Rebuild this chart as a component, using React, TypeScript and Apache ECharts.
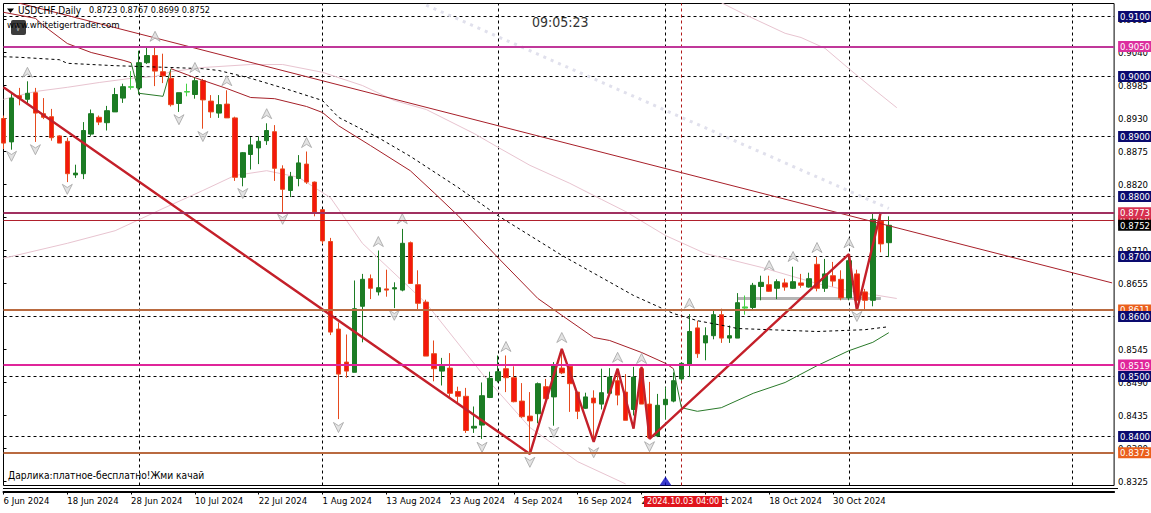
import React, { useEffect, useRef } from "react";
import * as echarts from "echarts";

const openPrices = [.8930,.8891,.8968,.8962,.8973,.8938,.8933,.8901,.8892,.8836,
.8838,.8904,.8932,.8923,.8941,.8964,.8982,.8981,.9023,.9035,
.9008,.8997,.8955,.8974,.8970,.8993,.8959,.8939,.8954,.8931,
.8832,.8870,.8881,.8893,.8908,.8846,.8810,.8830,.8854,.8824,
.8778,.8725,.8579,.8524,.8507,.8617,.8663,.8641,.8646,.8646,
.8644,.8723,.8653,.8624,.8538,.8509,.8514,.8475,.8467,.8414,
.8419,.8465,.8493,.8513,.8498,.8459,.8434,.8438,.8483,.8466,
.8514,.8517,.8474,.8447,.8464,.8454,.8472,.8493,.8474,.8445,
.8513,.8454,.8401,.8453,.8459,.8496,.8520,.8581,.8556,.8568,
.8603,.8564,.8564,.8614,.8615,.8650,.8653,.8647,.8656,.8647,
.8656,.8649,.8687,.8647,.8668,.8662,.8631,.8671,.8641,.8627,
.8759,.8723];
const closePrices = [.8889,.8964,.8964,.8972,.8939,.8932,.8898,.8889,.8838,.8839,
.8910,.8938,.8924,.8943,.8970,.8983,.8983,.9023,.9035,.9009,
.9001,.8953,.8973,.8975,.8993,.8961,.8941,.8953,.8931,.8832,
.8873,.8886,.8892,.8910,.8847,.8812,.8833,.8856,.8824,.8774,
.8726,.8574,.8504,.8509,.8613,.8662,.8647,.8648,.8644,.8648,
.8722,.8655,.8622,.8534,.8513,.8517,.8472,.8467,.8410,.8417,
.8468,.8497,.8508,.8498,.8458,.8433,.8426,.8488,.8463,.8518,
.8506,.8488,.8442,.8466,.8456,.8473,.8499,.8469,.8427,.8499,
.8454,.8398,.8452,.8462,.8493,.8522,.8575,.8538,.8568,.8603,
.8564,.8568,.8623,.8616,.8652,.8657,.8642,.8658,.8649,.8658,
.8652,.8663,.8647,.8671,.8659,.8631,.8693,.8627,.8627,.8762,
.8721,.8752];
const lowPrices = [.8879,.8878,.8952,.8954,.8891,.8929,.8893,.8889,.8824,.8831,
.8829,.8901,.8919,.8910,.8941,.8956,.8978,.8970,.9021,.8984,
.8989,.8950,.8941,.8967,.8963,.8913,.8931,.8931,.8931,.8826,
.8817,.8845,.8854,.8886,.8826,.8774,.8799,.8817,.8821,.8767,
.8721,.8569,.8429,.8498,.8507,.8557,.8629,.8635,.8633,.8614,
.8642,.8655,.8611,.8534,.8492,.8485,.8466,.8456,.8406,.8406,
.8396,.8464,.8490,.8474,.8457,.8431,.8371,.8422,.8460,.8418,
.8504,.8441,.8429,.8446,.8391,.8445,.8471,.8452,.8427,.8435,
.8454,.8396,.8399,.8429,.8457,.8493,.8499,.8531,.8527,.8562,
.8556,.8556,.8564,.8603,.8612,.8627,.8641,.8629,.8643,.8646,
.8648,.8648,.8642,.8641,.8650,.8627,.8627,.8610,.8610,.8617,
.8707,.8699];
const highPrices = [.8935,.8971,.8981,.8992,.8981,.8964,.8946,.8902,.8898,.8853,
.8924,.8945,.8935,.8951,.8981,.8988,.9009,.9043,.9048,.9048,
.9038,.9010,.8973,.8988,.8999,.8996,.8969,.8969,.8977,.8933,
.8874,.8899,.8900,.8922,.8919,.8852,.8841,.8869,.8875,.8825,
.8779,.8731,.8590,.8570,.8660,.8671,.8670,.8710,.8678,.8657,
.8746,.8725,.8677,.8628,.8560,.8531,.8539,.8483,.8481,.8450,
.8490,.8508,.8535,.8535,.8517,.8489,.8474,.8490,.8496,.8524,
.8546,.8521,.8474,.8473,.8477,.8513,.8514,.8513,.8504,.8516,
.8516,.8491,.8471,.8482,.8507,.8524,.8604,.8593,.8582,.8610,
.8613,.8585,.8639,.8635,.8656,.8668,.8668,.8662,.8663,.8683,
.8671,.8673,.8699,.8696,.8691,.8677,.8704,.8678,.8646,.8771,
.8774,.8767];
const lightDojiBars = [16, 23, 93];

const xTickBars = [0, 8, 16, 24, 32, 40, 48, 56, 64, 72, 80, 88, 96, 104];
const xTickLabels = ["6 Jun 2024", "18 Jun 2024", "28 Jun 2024", "10 Jul 2024", "22 Jul 2024", "1 Aug 2024", "13 Aug 2024", "23 Aug 2024", "4 Sep 2024", "16 Sep 2024", "26 Sep 2024", "8 Oct 2024", "18 Oct 2024", "30 Oct 2024"];
const yTicks = [.9095, .9040, .8985, .8930, .8875, .8820, .8765, .8710, .8655, .8600, .8545, .8490, .8435, .8380, .8325];
const roundLevels = [.91, .90, .89, .88, .87, .86, .85, .84];
const monthBars = [17, 40, 62, 83, 106, 134];
const cursorBar = 85;
const markerBar = 83;
const markerPrice = 0.83258;

const zigzag = [[0,.8982],[66,.8371],[70,.8546],[74,.8391],[77,.8513],[79,.8413],[80,.8516],[81,.8396],[106,.8704],[107,.8610],[110,.8774]];
const trendLine = [[0,.9129],[139,.8656]];
const maRedA = [[0,.9107],[4,.9097],[5,.9085],[8,.9055],[11,.9040],[15,.9027],[16,.9023]];
const maGreenA = [[16,.9023],[17,.8972],[20,.8967],[21,.9013]];
const maRedB = [[21,.9013],[24,.8998],[28,.8980],[31,.8965],[34,.8963],[38,.8950],[40,.8940],[42,.8918],[46,.8885],[51,.8843],[54,.8806],[57,.8768],[62,.8698],[67,.8630],[70,.8602],[74,.8565],[76,.8560],[80,.8540],[83,.8522],[84,.8513]];
const maGreenB = [[84,.8513],[85,.8448],[87,.8442],[90,.8448],[94,.8472],[98,.8490],[102,.8518],[106,.8543],[109,.8557],[111,.8573]];
const maDashed = [[0,.9033],[2,.9032],[7,.9028],[8,.9022],[14,.9018],[21,.9015],[25,.9013],[27,.9010],[31,.8997],[36,.8977],[40,.8960],[42,.8932],[47,.8898],[51,.8867],[57,.8815],[62,.8768],[70,.8702],[79,.8635],[84,.8605],[87,.8593],[91,.8583],[92,.8580],[102,.8575],[108,.8578],[111,.8583]];
const bandUpper = [[0,.8962],[4,.8975],[8,.8982],[12,.8990],[16,.8997],[19,.9000],[21,.9008],[25,.9015],[31,.9020],[35,.9020],[40,.9007],[45,.8985],[49,.8960],[53,.8945],[59,.8905],[62,.8882],[66,.8852],[71,.8822],[75,.8795],[78,.8775],[83,.8735],[88,.8705],[95,.8682],[102,.8655],[106,.8643],[112,.8630]];
const bandLower = [[0,.8697],[8,.8722],[14,.8743],[20,.8780],[25,.8810],[29,.8835],[33,.8843],[37,.8832],[41,.8798],[45,.8722],[53,.8622],[60,.8505],[66,.8415],[72,.8358],[78,.8321]];
const bandTop = [[90,.9123],[93,.9103],[98,.9072],[100,.9065],[103,.9047],[106,.9013],[109,.8980],[112,.8948]];
const dottedLine = [[53,.9119],[111,.8780]];
const greyBar = [[92,.8630],[110,.8630]];

const fractalUp = [[3,.9007],[19,.9067],[24,.9015],[28,.8993],[33,.8938],[38,.8890],[47,.8725],[50,.8763],[63,.8550],[70,.8565],[77,.8532],[80,.8530],[86,.8622],[96,.8685],[99,.8700],[102,.8715],[106,.8723]];
const fractalDown = [[1,.8867],[4,.8878],[8,.8812],[22,.8928],[25,.8900],[30,.8805],[35,.8762],[42,.8415],[49,.8602],[60,.8382],[66,.8357],[69,.8407],[74,.8373],[81,.8383],[107,.8600]];

const FONT = "'DejaVu Sans Condensed', 'DejaVu Sans', sans-serif";

function curve(name: string, data: number[][], color: string, width: number, z: number, extra: any = {}) {
  return {
    type: "line", name, data, z, symbol: "none", showSymbol: false, silent: true,
    lineStyle: { color, width, ...extra }, animation: false,
  };
}

function badge(value: number, bg: string, lineColor: string | null, width: number, labelColor = "#fff") {
  return {
    yAxis: value,
    lineStyle: lineColor ? { color: lineColor, width, type: "solid" } : { color: "rgba(0,0,0,0)", width: 1, opacity: 1 },
    label: {
      show: true, position: "end", distance: 4, formatter: value.toFixed(4), color: labelColor,
      backgroundColor: bg, padding: [1, 1, 0, 2], fontFamily: FONT, fontSize: 9.5, lineHeight: 10, opacity: 1,
    },
  };
}

function levelSeries(name: string, z: number, data: any[], extra: any = {}) {
  return {
    type: "line", name, data: [], z, symbol: "none", silent: true, animation: false,
    markLine: { silent: true, animation: false, z, symbol: ["none", "none"], precision: 4, data, ...extra },
  };
}

export default function App() {
  const ref = useRef<HTMLDivElement>(null);
  useEffect(() => {
    const chart = echarts.init(ref.current!, undefined, { renderer: "svg" });
    const greenC = "#1c7c24";
    const candles = openPrices.map((o, i) => {
      const item: any = { value: [i, o, closePrices[i], lowPrices[i], highPrices[i]] };
      if (lightDojiBars.includes(i)) {
        item.itemStyle = { color: "#45d045", borderColor: "#45d045" };
      }
      return item;
    });
    const arrowStyle = { color: "#dcdcdc", borderColor: "#a4a4a4", borderWidth: 1 };
    const option: any = {
      animation: false,
      backgroundColor: "#fff",
      grid: { left: 3.5, top: 3.5, width: 1114, height: 482, show: true, borderColor: "#000", borderWidth: 1, backgroundColor: "#fff" },
      xAxis: {
        type: "value", min: 0, max: 139.25, offset: 6, position: "bottom",
        axisLine: { show: true, onZero: false, lineStyle: { color: "#000", width: 2 } },
        axisTick: { show: true, length: 3, customValues: xTickBars, lineStyle: { color: "#000" } },
        axisLabel: {
          show: true, customValues: xTickBars, align: "left", margin: 4, color: "#000",
          fontFamily: FONT, fontSize: 9.5,
          formatter: (v: number) => xTickLabels[xTickBars.indexOf(v)] ?? "",
        },
        splitLine: { show: false },
      },
      yAxis: {
        type: "value", position: "right", min: 0.831833, max: 0.912167, scale: true,
        axisLine: { show: false },
        axisTick: { show: true, length: 3, customValues: yTicks, lineStyle: { color: "#000" } },
        axisLabel: {
          show: true, customValues: yTicks, margin: 4, color: "#000", fontFamily: FONT, fontSize: 9.5,
          formatter: (v: number) => v.toFixed(4),
        },
        splitLine: { show: false },
      },
      series: [
        levelSeries("round levels", 1, roundLevels.map((v) => ({ yAxis: v, label: { show: false }, lineStyle: { color: "#000", width: 1, type: [3, 3] } }))),
        levelSeries("month lines", 1, monthBars.map((b) => ({ xAxis: b, label: { show: false }, lineStyle: { color: "#000", width: 1, type: [3, 3] } }))),
        levelSeries("cursor line", 1, [{ xAxis: cursorBar, label: { show: false }, lineStyle: { color: "#b01818", width: 1, type: [3, 3] } }]),
        curve("dotted", dottedLine, "#e0e0ec", 3, 1, { type: [3, 5] }),
        curve("band upper", bandUpper, "#e8c4d0", 1, 1),
        curve("band lower", bandLower, "#e8c4d0", 1, 1),
        curve("band top", bandTop, "#e8c4d0", 1, 1),
        curve("grey bar", greyBar, "#b4b4b4", 3, 1),
        {
          type: "candlestick", name: "USDCHF", z: 2, silent: true, animation: false, barWidth: 5, layout: "horizontal",
          encode: { x: 0, y: [1, 2, 3, 4] }, data: candles,
          itemStyle: { color: greenC, color0: "#f4180c", borderColor: greenC, borderColor0: "#e64a1e", borderWidth: 1 },
        },
        curve("ma red a", maRedA, "#a52028", 1, 3),
        curve("ma green a", maGreenA, "#2a7a2a", 1, 3),
        curve("ma red b", maRedB, "#a52028", 1, 3),
        curve("ma green b", maGreenB, "#2a7a2a", 1, 3),
        curve("ma dashed", maDashed, "#000", 1, 3, { type: [3, 3] }),
        curve("trend", trendLine, "#a8202a", 1, 3),
        curve("zigzag", zigzag, "#c4202a", 2.4, 4),
        {
          type: "scatter", name: "fractal up", data: fractalUp, z: 4, silent: true, animation: false,
          symbol: "path://M5,0 L10,11 L5,7.5 L0,11 Z", symbolSize: [10, 10], itemStyle: arrowStyle,
        },
        {
          type: "scatter", name: "fractal down", data: fractalDown, z: 4, silent: true, animation: false,
          symbol: "path://M0,0 L5,3.5 L10,0 L5,11 Z", symbolSize: [10, 10], itemStyle: arrowStyle,
        },
        {
          type: "scatter", name: "marker", data: [[markerBar, markerPrice]], z: 4, silent: true, animation: false,
          symbol: "triangle", symbolSize: [12, 9], itemStyle: { color: "#0808c0" },
        },
        levelSeries("solid low", 5, [badge(.8760, "#d62838", "#b0202c", 1)]),
        levelSeries("solid a", 6, [
          badge(.9050, "#dc2f9e", "#c0389a", 2),
          badge(.8773, "#d63050", "#a03060", 2),
          badge(.8611, "#ea5f1c", "#b96a40", 2),
          badge(.8519, "#e0259a", "#e0259a", 2),
          badge(.8373, "#ea5f1c", "#b96a40", 2),
        ]),
        levelSeries("round badges", 7, roundLevels.map((v) => badge(v, "#0a0a6e", null, 0))),
        levelSeries("last price", 8, [badge(.8752, "#000", null, 0)]),
      ],
      graphic: [
        { type: "line", z: 50, shape: { x1: 3, y1: 488.5, x2: 1118, y2: 488.5 }, style: { stroke: "#000", lineWidth: 1 } },
        { type: "polygon", z: 50, shape: { points: [[7, 8.5], [14, 8.5], [10.5, 13]] }, style: { fill: "#000" } },
        { type: "text", z: 50, x: 18, y: 5, style: { text: "USDCHF,Daily", font: `10px ${FONT}`, fill: "#000" } },
        { type: "text", z: 50, x: 89, y: 5.5, style: { text: "0.8723 0.8767 0.8699 0.8752", font: `9px ${FONT}`, fill: "#000" } },
        { type: "rect", z: 50, shape: { x: 11, y: 20, width: 15, height: 15, r: 2 }, style: { fill: "#3c3c3c" } },
        { type: "text", z: 51, x: 15.5, y: 24, style: { text: "V", font: `8px ${FONT}`, fill: "#aaa" } },
        { type: "text", z: 52, x: 7, y: 19, style: { text: "www.whitetigertrader.com", font: `9.5px ${FONT}`, fill: "#000" } },
        { type: "text", z: 50, x: 532, y: 14.5, style: { text: "09:05:23", font: `14px ${FONT}`, fill: "#333" } },
        { type: "text", z: 50, x: 8, y: 470, style: { text: "Дарлика:платное-бесплатно!Жми качай", font: `10.2px ${FONT}`, fill: "#000" } },
        { type: "rect", z: 60, shape: { x: 644, y: 496, width: 78, height: 11 }, style: { fill: "#e0141c" } },
        { type: "text", z: 61, x: 647, y: 496.5, style: { text: "2024.10.03 04:00", font: `9px ${FONT}`, fill: "#fff" } },
      ],
    };
    chart.setOption(option);
    return () => chart.dispose();
  }, []);
  return <div ref={ref} style={{ position: "absolute", left: 0, top: 0, width: 1151, height: 513 }} />;
}
